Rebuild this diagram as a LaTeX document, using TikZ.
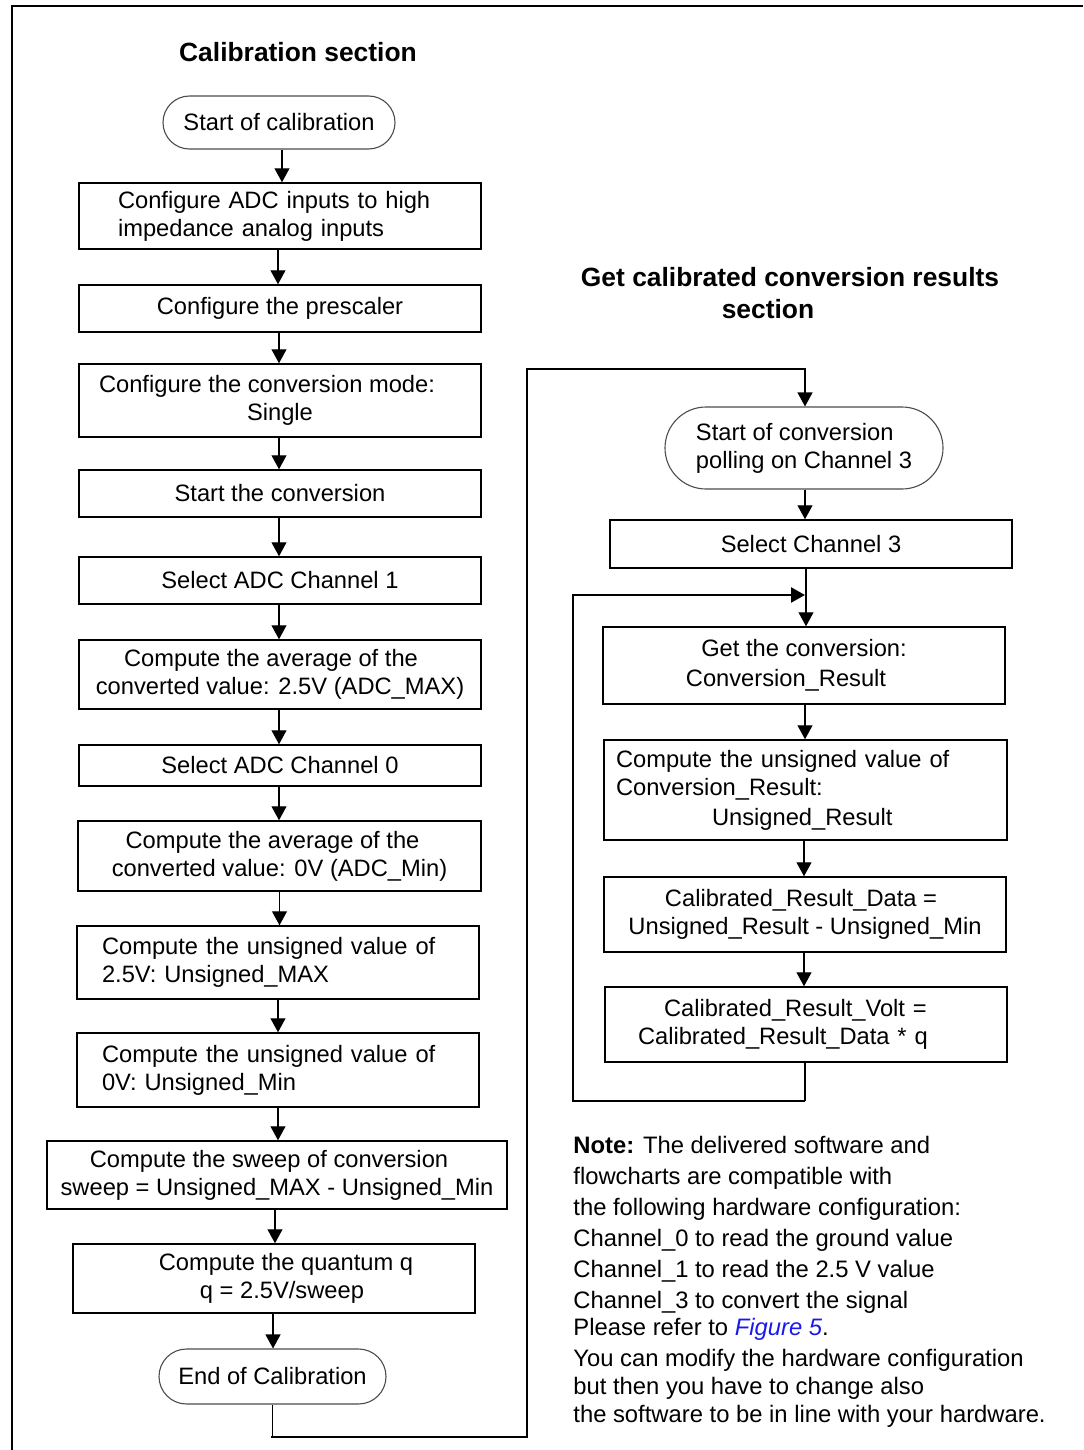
\documentclass[tikz,border=0pt]{standalone}
\usepackage{fontspec}
\setmainfont{Liberation Sans}
\usetikzlibrary{arrows.meta,calc}
\newdimen\upx \upx=0.5pt
\definecolor{figblue}{RGB}{25,25,235}
% vertical flow arrow from the bottom of #1 to the top of #2, shifted sideways by #3
\newcommand{\flow}[3]{\draw[arr] ([xshift=#3]#1.south) -- ([xshift=#3]#1.south |- #2.north);}
\begin{document}
\begin{tikzpicture}[x=0.5pt,y=-0.5pt,
  font=\fontsize{11.85}{14}\selectfont,
  box/.style={draw, line width=0.75pt, inner sep=0pt, align=center},
  lbox/.style={box, align=left},
  pill/.style={draw=black!70, line width=0.55pt, inner sep=0pt, align=center},
  tip/.style={-{Triangle[width=7.5pt,length=7pt]}},
  arr/.style={line width=0.6pt, tip},
  stub/.style={line width=0.6pt},
  run/.style={line width=1.15pt, line cap=rect},
  heading/.style={font=\fontsize{13.2}{16}\selectfont\bfseries, align=center, inner sep=0pt}
]
\useasboundingbox (0,0) rectangle (1083,1450);

% outer frame
\coordinate (fTR) at (1083,6);
\coordinate (fTL) at (12,6);
\coordinate (fBL) at (12,1450);
\draw[line width=1.25pt] (fTR) -- (fTL) -- (fBL);

% ---------------- calibration section ----------------
\node[heading] (t1) at (298,52) {Calibration section};

\node[pill, minimum width=232\upx, minimum height=53\upx, rounded corners=26.5\upx] (s1) at (279,122.5) {Start of calibration};
\node[lbox, minimum height=66\upx, text width=324\upx, inner xsep=39\upx] (b2) at (280,216) {Configure ADC inputs to high\\impedance analog inputs};
\node[box, minimum width=402\upx, minimum height=47\upx] (b3) at (280,308.5) {Configure the prescaler};
\node[box, minimum width=402\upx, minimum height=73\upx] (b4) at (280,400.5) {Configure the conversion mode:\hspace*{26\upx}\\Single};
\node[box, minimum width=402\upx, minimum height=47\upx] (b5) at (280,493.5) {Start the conversion};
\node[box, minimum width=402\upx, minimum height=47\upx] (b6) at (280,580.5) {Select ADC Channel 1};
\node[box, minimum width=402\upx, minimum height=69\upx] (b7) at (280,674.5) {Compute the average of the\hspace*{18\upx}\\converted value: 2.5V (ADC\_MAX)};
\node[box, minimum width=402\upx, minimum height=41\upx] (b8) at (280,765.5) {Select ADC Channel 0};
\node[box, minimum width=403\upx, minimum height=70\upx] (b9) at (279.5,856) {Compute the average of the\hspace*{14\upx}\\converted value: 0V (ADC\_Min)};
\node[lbox, minimum height=73\upx, text width=352\upx, inner xsep=25\upx] (b10) at (278,962.5) {Compute the unsigned value of\\2.5V: Unsigned\_MAX};
\node[lbox, minimum height=74\upx, text width=352\upx, inner xsep=25\upx] (b11) at (278,1070) {Compute the unsigned value of\\0V: Unsigned\_Min};
\node[box, minimum width=460\upx, minimum height=68\upx] (b12) at (277,1175) {Compute the sweep of conversion\hspace*{16\upx}\\sweep = Unsigned\_MAX - Unsigned\_Min};
\node[box, minimum width=402\upx, minimum height=69\upx] (b13) at (274,1278.5) {\hspace*{24\upx}Compute the quantum q\\\hspace*{16\upx}q = 2.5V/sweep};
\node[pill, minimum width=227\upx, minimum height=55\upx, rounded corners=27.5\upx] (b14) at (272.5,1376.5) {End of Calibration};

\flow{s1}{b2}{3\upx}
\flow{b2}{b3}{-2\upx}
\flow{b3}{b4}{-1\upx}
\flow{b4}{b5}{-1\upx}
\flow{b5}{b6}{-1\upx}
\flow{b6}{b7}{-1\upx}
\flow{b7}{b8}{-1\upx}
\flow{b8}{b9}{-1\upx}
\flow{b9}{b10}{0pt}
\flow{b10}{b11}{0pt}
\flow{b11}{b12}{0pt}
\flow{b12}{b13}{-2\upx}
\flow{b13}{b14}{-1\upx}

% ---------------- conversion results section ----------------
\node[heading] (t2) at (790,293) {Get calibrated conversion results\\section\hspace*{44\upx}};

\node[pill, align=left, minimum width=278\upx, minimum height=82\upx, rounded corners=41\upx] (r1) at (804,448) {Start of conversion\\polling on Channel 3};
\node[box, minimum width=402\upx, minimum height=48\upx] (r2) at (811,544) {Select Channel 3};
\node[box, minimum width=402\upx, minimum height=77\upx] (r3) at (804,665.5) {Get the conversion:\\[1pt]Conversion\_Result\hspace*{36\upx}};
\node[lbox, minimum height=100\upx, text width=379\upx, inner xsep=12\upx] (r4) at (805.5,790) {Compute the unsigned value of\\Conversion\_Result:\\[1pt]\hspace*{96\upx}Unsigned\_Result};
\node[box, minimum width=402\upx, minimum height=75\upx] (r5) at (805,914.5) {Calibrated\_Result\_Data =\hspace*{8\upx}\\Unsigned\_Result - Unsigned\_Min};
\node[lbox, minimum height=75\upx, text width=336\upx, inner xsep=33\upx] (r6) at (806,1024.5) {\hspace*{26\upx}Calibrated\_Result\_Volt =\\Calibrated\_Result\_Data * q};

\flow{r1}{r2}{1\upx}
\flow{r2}{r3}{-5\upx}
\flow{r3}{r4}{1\upx}
\flow{r4}{r5}{-1.5\upx}
\flow{r5}{r6}{-1\upx}

% link from the end of calibration to the start of conversion polling
\coordinate (cb) at (527,1437);
\coordinate (cc) at (527,369);
\coordinate (cd) at (805,369);
\draw[stub] (b14.south) -- (b14.south |- cb);
\draw[run] (b14.south |- cb) -- (cb) -- (cc) -- (cd);
\draw[arr] (cd) -- (cd |- r1.north);

% polling loop back to the conversion read
\coordinate (lpA) at (805,1101);
\coordinate (lpB) at (573,1101);
\coordinate (lpC) at (573,595);
\coordinate (lpD) at (805,595);
\draw[stub] ([xshift=-1\upx]r6.south) -- (lpA);
\draw[line width=1.15pt, tip] (lpA) -- (lpB) -- (lpC) -- (lpD);

% hardware note
\node[anchor=north west, align=left, inner sep=0pt, font=\fontsize{11.9}{13.5}\selectfont] (note) at (573,1136)
 {\textbf{Note:} The delivered software and\\[2pt]
  flowcharts are compatible with\\[2pt]
  the following hardware configuration:\\[2pt]
  Channel\_0 to read the ground value\\[2pt]
  Channel\_1 to read the 2.5 V value\\[2pt]
  Channel\_3 to convert the signal\\
  Please refer to {\color{figblue}\itshape Figure 5}.\\[2pt]
  You can modify the hardware configuration\\[0.5pt]
  but then you have to change also\\[0.5pt]
  the software to be in line with your hardware.};
\end{tikzpicture}
\end{document}
